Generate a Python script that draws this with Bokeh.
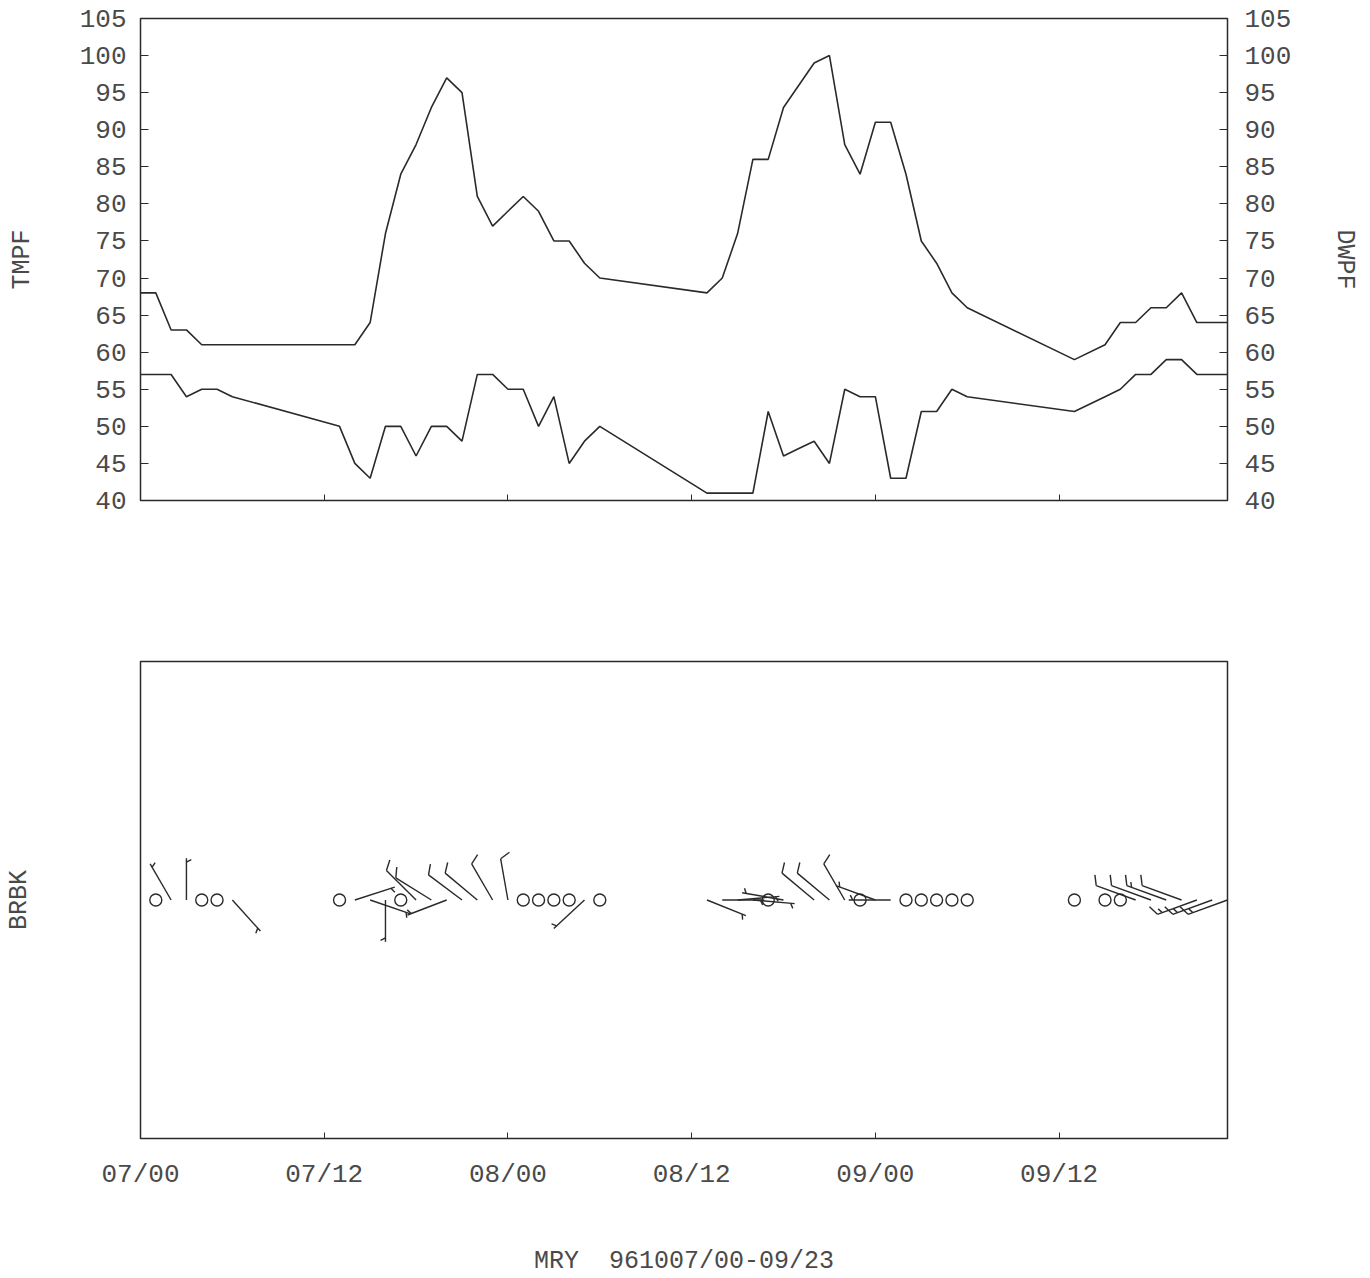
import math
from bokeh.plotting import figure
from bokeh.models import Range1d, LinearAxis, FixedTicker, ColumnDataSource
from bokeh.layouts import column
from bokeh.embed import file_html
from bokeh.resources import INLINE

# ---------------- data ----------------
tmpf_hours = [0, 1, 2, 3, 4, 5, 6, 13, 14, 15, 16, 17, 18, 19, 20, 21, 22, 23, 24, 25,
              26, 27, 28, 29, 30, 37, 38, 39, 40, 41, 42, 43, 44, 45, 46, 47, 48, 49,
              50, 51, 52, 53, 54, 61, 63, 64, 65, 66, 67, 68, 69, 70, 71]
tmpf = [68, 68, 63, 63, 61, 61, 61, 61, 61, 64, 76, 84, 88, 93, 97, 95, 81, 77, 79, 81,
        79, 75, 75, 72, 70, 68, 70, 76, 86, 86, 93, 96, 99, 100, 88, 84, 91, 91,
        84, 75, 72, 68, 66, 59, 61, 64, 64, 66, 66, 68, 64, 64, 64]

dwpf_hours = [0, 1, 2, 3, 4, 5, 6, 13, 14, 15, 16, 17, 18, 19, 20, 21, 22, 23, 24, 25,
              26, 27, 28, 29, 30, 37, 38, 39, 40, 41, 42, 43, 44, 45, 46, 47, 48, 49,
              50, 51, 52, 53, 54, 61, 63, 64, 65, 66, 67, 68, 69, 70, 71]
dwpf = [57, 57, 57, 54, 55, 55, 54, 50, 45, 43, 50, 50, 46, 50, 50, 48, 57, 57, 55, 55,
        50, 54, 45, 48, 50, 41, 41, 41, 41, 52, 46, 47, 48, 45, 55, 54, 54, 43,
        43, 52, 52, 55, 54, 52, 54, 55, 57, 57, 59, 59, 57, 57, 57]

# wind: hour, direction (deg, from), speed (kt); speed 0 = calm
wind_hours = [1, 2, 3, 4, 5, 6, 13, 14, 15, 16, 17, 18, 19, 20, 21, 22, 23, 24,
              25, 26, 27, 28, 29, 30, 37, 38, 39, 40, 41, 42, 44, 45, 46, 47, 48, 49,
              50, 51, 52, 53, 54, 61, 63, 64, 65, 66, 67, 68, 69, 70, 71]
wind_dir = [0, 330, 360, 0, 0, 138, 0, 72, 109, 180, 0, 315, 302, 249, 307, 310, 330, 350,
            0, 0, 0, 0, 227, 0, 112, 90, 85, 95, 0, 280, 310, 310, 330, 0, 290, 270,
            0, 0, 0, 0, 0, 0, 0, 0, 290, 290, 290, 290, 250, 250, 250]
wind_spd = [0, 5, 5, 0, 0, 5, 0, 5, 5, 5, 0, 10, 10, 5, 10, 10, 10, 10,
            0, 0, 0, 0, 5, 0, 5, 5, 5, 5, 0, 5, 10, 10, 10, 0, 5, 5,
            0, 0, 0, 0, 0, 0, 0, 0, 10, 10, 15, 10, 15, 15, 15]

time_ticks = [0, 12, 24, 36, 48, 60]
time_labels = ["07/00", "07/12", "08/00", "08/12", "09/00", "09/12"]
temp_ticks = [40, 45, 50, 55, 60, 65, 70, 75, 80, 85, 90, 95, 100, 105]
left_title = "TMPF"
right_title = "DWPF"
wind_title = "BRBK"
footer = "MRY\u00a0\u00a0961007/00-09/23"

# ---------------- style ----------------
FONT = "Liberation Mono"
INK = "#2a2a2a"
TXT = "#4a4a4a"
W = 1362
FRAME_W = 1088
BL = 140
BR = W - BL - FRAME_W
X_END = 71


def style_axis(ax, size="26px"):
    ax.major_label_text_font = FONT
    ax.major_label_text_font_size = size
    ax.major_label_text_color = TXT
    ax.axis_label_text_font = FONT
    ax.axis_label_text_font_size = "25px"
    ax.axis_label_text_font_style = "normal"
    ax.axis_label_text_color = TXT
    ax.axis_line_color = INK
    ax.major_tick_line_color = INK
    ax.minor_tick_line_color = None
    ax.major_tick_out = 0


# ---------------- top panel ----------------
H1 = 570
p1 = figure(width=W, height=H1, x_range=Range1d(0, X_END), y_range=Range1d(40, 105),
            output_backend="svg", toolbar_location=None,
            min_border_left=BL, min_border_right=BR, min_border_top=18,
            min_border_bottom=H1 - 18 - 482)
p1.grid.visible = False
p1.outline_line_color = INK
p1.outline_line_width = 1.5

p1.xaxis.ticker = FixedTicker(ticks=time_ticks)
p1.xaxis.major_label_overrides = {t: "" for t in time_ticks}
style_axis(p1.xaxis[0])
p1.xaxis.major_tick_in = 6

p1.yaxis.ticker = FixedTicker(ticks=temp_ticks)
style_axis(p1.yaxis[0])
p1.yaxis.major_tick_in = 8
p1.yaxis.major_label_standoff = 14
p1.yaxis.axis_label = left_title
p1.yaxis.axis_label_standoff = 40

rax = LinearAxis(ticker=FixedTicker(ticks=temp_ticks), axis_label=right_title)
style_axis(rax)
rax.major_tick_in = 8
rax.major_label_standoff = 17
rax.axis_label_standoff = 36
p1.add_layout(rax, "right")

p1.line(tmpf_hours, tmpf, line_color=INK, line_width=1.6)
p1.line(dwpf_hours, dwpf, line_color=INK, line_width=1.6)

# ---------------- bottom panel (wind barbs) ----------------
FRAME_H2 = 479
TOP2 = 661 - H1
BOT2 = 138
half = FRAME_H2 / 2.0
p2 = figure(width=W, height=TOP2 + FRAME_H2 + BOT2, x_range=Range1d(0, X_END),
            y_range=Range1d(-half, half),
            output_backend="svg", toolbar_location=None,
            min_border_left=BL, min_border_right=BR, min_border_top=TOP2,
            min_border_bottom=BOT2)
p2.grid.visible = False
p2.outline_line_color = INK
p2.outline_line_width = 1.5

p2.xaxis.ticker = FixedTicker(ticks=time_ticks)
p2.xaxis.major_label_overrides = dict(zip(time_ticks, time_labels))
style_axis(p2.xaxis[0])
p2.xaxis.major_tick_in = 6
p2.xaxis.major_label_standoff = 21
p2.xaxis.axis_label = footer
p2.xaxis.axis_label_standoff = 54

p2.yaxis.ticker = FixedTicker(ticks=[])
style_axis(p2.yaxis[0])
p2.yaxis.major_tick_in = 0
p2.yaxis.axis_label = wind_title
p2.yaxis.axis_label_standoff = 107

px_per_h = FRAME_W / X_END
SHAFT = 42.0
FULL = 11.0
SPACING = 5.0

x0s, y0s, x1s, y1s = [], [], [], []
calm_x, calm_y = [], []
for h, d, s in zip(wind_hours, wind_dir, wind_spd):
    if s == 0:
        calm_x.append(h)
        calm_y.append(0)
        continue
    th = math.radians(d)
    ux, uy = math.sin(th), math.cos(th)
    px, py = uy, -ux  # clockwise perpendicular
    x0s.append(h)
    y0s.append(0)
    x1s.append(h + ux * SHAFT / px_per_h)
    y1s.append(uy * SHAFT)
    nfull = s // 10
    nhalf = 1 if (s % 10) >= 5 else 0
    pos = SHAFT
    if nfull == 0:
        pos = SHAFT - 4
    for i in range(nfull + nhalf):
        blen = FULL if i < nfull else FULL / 2
        bx = ux * pos
        by = uy * pos
        ex = bx + blen * (0.45 * ux + 0.89 * px)
        ey = by + blen * (0.45 * uy + 0.89 * py)
        x0s.append(h + bx / px_per_h)
        y0s.append(by)
        x1s.append(h + ex / px_per_h)
        y1s.append(ey)
        pos -= SPACING

barbs = ColumnDataSource(dict(x0=x0s, y0=y0s, x1=x1s, y1=y1s))
p2.segment(x0="x0", y0="y0", x1="x1", y1="y1", source=barbs, line_color=INK, line_width=1.4)
p2.scatter(calm_x, calm_y, marker="circle", size=12, fill_color=None,
           line_color=INK, line_width=1.4)

layout = column(p1, p2)
open("out.html", "w").write(file_html(layout, INLINE))
